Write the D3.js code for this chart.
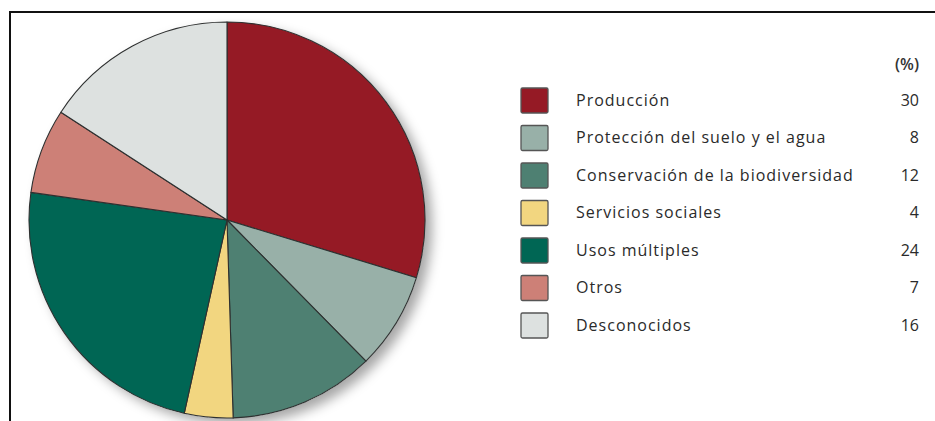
<!DOCTYPE html>
<html><head><meta charset="utf-8">
<script src="https://cdn.jsdelivr.net/npm/d3@7"></script>
<style>html,body{margin:0;padding:0;background:#fff;}svg{display:block;}</style>
</head><body>
<svg id="c" width="935" height="421"></svg>
<script>
const categories = ["Producción","Protección del suelo y el agua","Conservación de la biodiversidad","Servicios sociales","Usos múltiples","Otros","Desconocidos"];
const values = [30, 8, 12, 4, 24, 7, 16];
const colors = ["#951a25","#98b0a8","#4e8072","#f2d680","#006654","#cd8077","#dde1e0"];
const unitLabel = "(%)";

const svg = d3.select("#c");
const W = 935, H = 421;

// frame
svg.append("path").attr("d", `M10,${H} L10,12 L${W},12`).attr("fill","none").attr("stroke","#111").attr("stroke-width",2);

const defs = svg.append("defs");
const f = defs.append("filter").attr("id","sh").attr("x","-20%").attr("y","-20%").attr("width","150%").attr("height","150%");
f.append("feDropShadow").attr("dx",7).attr("dy",6).attr("stdDeviation",6).attr("flood-color","#000").attr("flood-opacity",0.35);

const cx = 227, cy = 220, r = 198;
const pie = d3.pie().sort(null).value(d => d)(values);
const arc = d3.arc().innerRadius(0).outerRadius(r);
const g = svg.append("g").attr("transform",`translate(${cx},${cy})`);
g.append("circle").attr("r", r).attr("fill","#fff").attr("filter","url(#sh)");
g.selectAll("path.s").data(pie).join("path").attr("class","s")
  .attr("d", arc).attr("fill",(d,i)=>colors[i]).attr("stroke","#2e3030").attr("stroke-width",1.1).attr("stroke-linejoin","round");

// legend
const y = d3.scalePoint().domain(categories).range([100, 325]);
const lg = svg.append("g").attr("font-family","'Open Sans', 'Noto Sans', sans-serif").attr("font-size","16px").attr("fill","#2a2a2a");
lg.append("text").attr("x",919).attr("y",70).attr("text-anchor","end").attr("font-weight","600").attr("fill","#333").text(unitLabel);
const row = lg.selectAll("g.r").data(categories).join("g").attr("class","r").attr("transform",d=>`translate(0,${y(d)})`);
row.append("rect").attr("x",521).attr("y",-12).attr("width",27).attr("height",25).attr("rx",1.5)
  .attr("fill",(d,i)=>colors[i]).attr("stroke","#555").attr("stroke-width",1.3);
row.append("text").attr("x",576).attr("y",5.5).attr("letter-spacing","1px").text(d=>d);
row.append("text").attr("x",919).attr("y",5.5).attr("text-anchor","end").text((d,i)=>values[i]);
</script>
</body></html>
